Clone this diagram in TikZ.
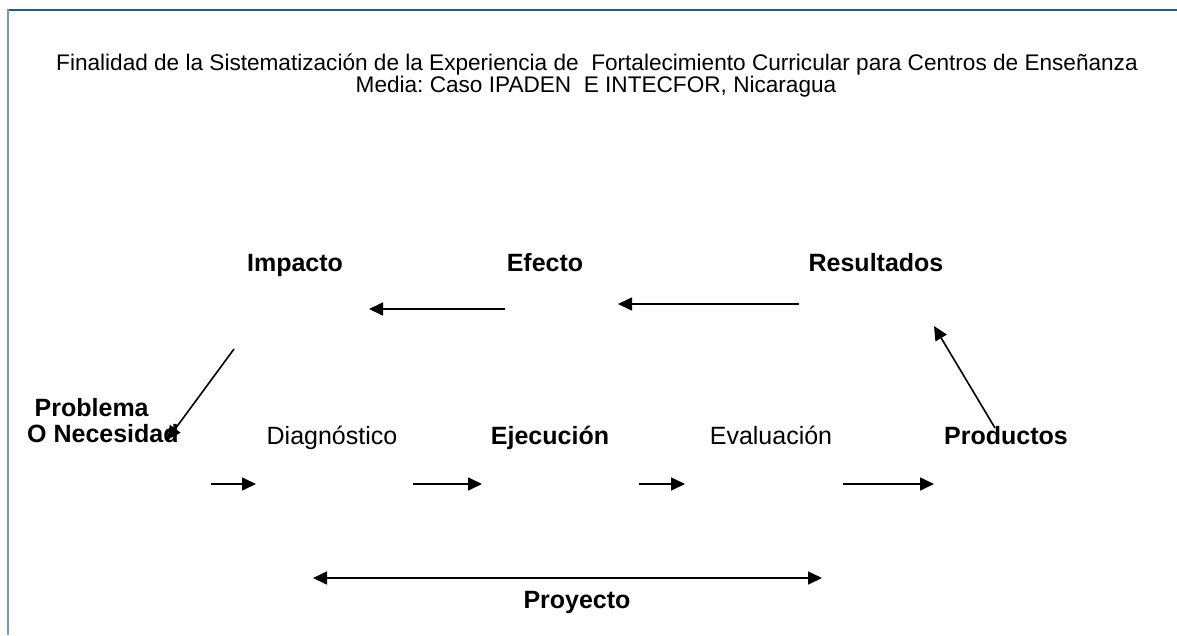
\documentclass[tikz,border=0pt]{standalone}
\usepackage{fontspec}
\setmainfont{Liberation Sans}
\usepackage{xcolor}
\usetikzlibrary{arrows.meta}
\definecolor{frameTop}{RGB}{40,85,150}
\definecolor{frameLeft}{RGB}{125,152,180}
\frenchspacing

\begin{document}
\begin{tikzpicture}[x=1pt, y=-1pt,
    lbl/.style={inner sep=0pt, anchor=base, font=\fontsize{25}{28}\selectfont},
    blbl/.style={lbl, font=\fontsize{25}{28}\selectfont\bfseries},
    ttl/.style={inner sep=0pt, anchor=base, font=\fontsize{22.6}{22}\selectfont},
    flow/.style={-{Triangle[length=14pt, width=13pt]}, line width=1.6pt, black},
    both/.style={{Triangle[length=14pt, width=13pt]}-{Triangle[length=14pt, width=13pt]}, line width=1.6pt, black}]
  \useasboundingbox (0,0) rectangle (1177,635);
  \draw[frameTop, line width=1.2pt] (8,10) -- (1177,10);
  \draw[frameLeft, line width=2.5pt] (8,9.4) -- (8,635);

  \node[ttl] (title1) at (597,70) {Finalidad de la Sistematización de la Experiencia de\ \ Fortalecimiento Curricular para Centros de Enseñanza};
  \node[ttl] (title2) at (596,92) {Media: Caso IPADEN\ \ E INTECFOR, Nicaragua};

  \node[blbl] (impacto) at (295,271) {Impacto};
  \node[blbl] (efecto) at (545,271) {Efecto};
  \node[blbl] (resultados) at (876,271) {Resultados};
  \node[blbl, anchor=base west] (problema) at (34.5,416) {Problema};
  \node[blbl, anchor=base west] (necesidad) at (27,442) {O Necesidad};
  \node[lbl] (diagnostico) at (332,444) {Diagnóstico};
  \node[blbl] (ejecucion) at (550,444) {Ejecución};
  \node[lbl] (evaluacion) at (771,444) {Evaluación};
  \node[blbl] (productos) at (1006,444) {Productos};
  \node[blbl] (proyecto) at (577,608) {Proyecto};

  \coordinate (efA) at (505,309);
  \coordinate (efB) at (369,309);
  \coordinate (reA) at (799,304);
  \coordinate (reB) at (618,304);
  \coordinate (imA) at (234,349);
  \coordinate (imB) at (167,440);
  \coordinate (prA) at (995,428);
  \coordinate (prB) at (934,326);
  \coordinate (dgA) at (211,484);
  \coordinate (dgB) at (256,484);
  \coordinate (ejA) at (413,484);
  \coordinate (ejB) at (482,484);
  \coordinate (evA) at (639,484);
  \coordinate (evB) at (685,484);
  \coordinate (pdA) at (843,484);
  \coordinate (pdB) at (934,484);
  \coordinate (pyA) at (313,578);
  \coordinate (pyB) at (822,578);

  \draw[flow] (efA) -- (efB);
  \draw[flow] (reA) -- (reB);
  \draw[flow] (imA) -- (imB);
  \draw[flow] (prA) -- (prB);
  \draw[flow] (dgA) -- (dgB);
  \draw[flow] (ejA) -- (ejB);
  \draw[flow] (evA) -- (evB);
  \draw[flow] (pdA) -- (pdB);
  \draw[both] (pyA) -- (pyB);

\end{tikzpicture}
\end{document}
